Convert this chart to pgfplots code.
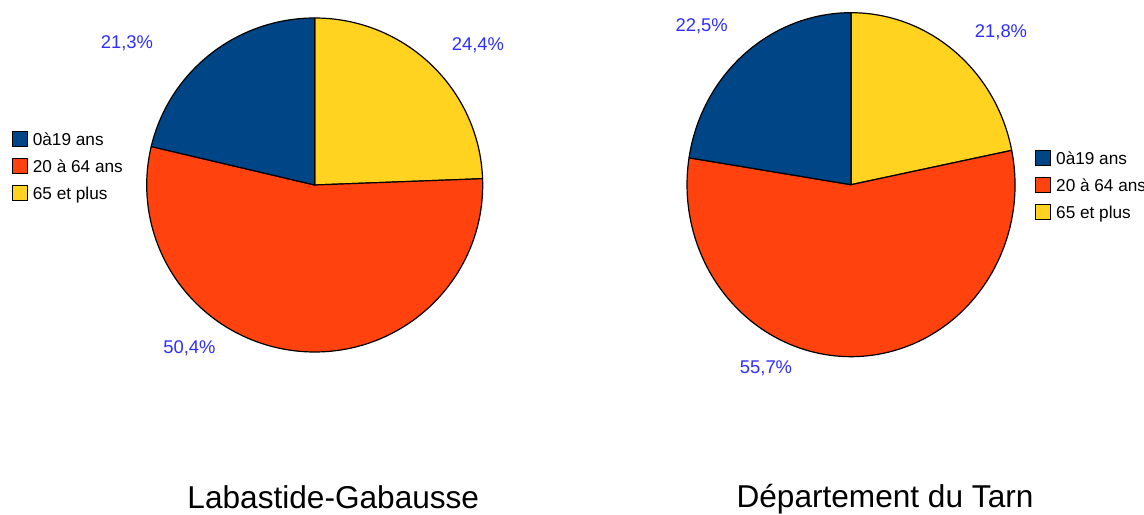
\documentclass[border=0pt]{standalone}
\usepackage{pgfplots}
\pgfplotsset{compat=1.18}
\usepackage{pgfplotstable}
\usepackage{fontspec}
\setmainfont{Liberation Sans}

\definecolor{ooblue}{HTML}{004586}
\definecolor{oored}{HTML}{FF420E}
\definecolor{ooyellow}{HTML}{FFD320}
\definecolor{lblblue}{HTML}{2E2EFF}

% share = slice size as drawn (clockwise from 12 o'clock), pct = printed value
% lx, ly = label centre, in px from the bottom-left corner
\pgfplotstableread{
share pct  lx    ly    col
24.4  24.4 478   469   ooyellow
54.3  50.4 189.5 166   oored
21.3  21.3 127   471   ooblue
}\labastide
\pgfplotstableread{
share pct  lx    ly    col
21.8  21.8 1001  482   ooyellow
55.7  55.7 766   146   oored
22.5  22.5 701.7 487.5 ooblue
}\tarn

\pgfkeys{/pgf/number format/.cd, use comma, fixed, precision=1, fixed zerofill,
  assume math mode=true}
\tikzset{lbl/.style={text=lblblue, font=\fontsize{9.2}{11}\selectfont, inner sep=0pt}}

% #1 table, #2 cx, #3 cy, #4 rx, #5 ry (axis units, 1 unit = 0.5pt)
\newcommand\drawpie[5]{%
  \pgfplotstablegetrowsof{#1}%
  \pgfmathtruncatemacro\pielast{\pgfplotsretval-1}%
  \xdef\pieangle{90}%
  \foreach \i in {0,...,\pielast}{%
    \pgfplotstablegetelem{\i}{share}\of#1\let\pshare\pgfplotsretval
    \pgfplotstablegetelem{\i}{pct}\of#1\let\ppct\pgfplotsretval
    \pgfplotstablegetelem{\i}{lx}\of#1\let\plx\pgfplotsretval
    \pgfplotstablegetelem{\i}{ly}\of#1\let\ply\pgfplotsretval
    \pgfplotstablegetelem{\i}{col}\of#1\let\pcol\pgfplotsretval
    \pgfmathsetmacro\pend{\pieangle-3.6*\pshare}%
    \pgfmathsetmacro\px{#2+#4*cos(\pieangle)}%
    \pgfmathsetmacro\py{#3+#5*sin(\pieangle)}%
    \edef\piecmd{%
      \noexpand\filldraw[fill=\pcol, draw=black, line width=0.6pt, line join=round]
        (axis cs:#2,#3) -- (axis cs:\px,\py)
        arc[start angle=\pieangle, end angle=\pend, x radius=#4*0.5pt, y radius=#5*0.5pt]
        -- cycle;
      \noexpand\node[lbl] at (axis cs:\plx,\ply)
        {\noexpand\pgfmathprintnumber{\ppct}\noexpand\%};
    }%
    \piecmd
    \xdef\pieangle{\pend}%
  }%
}

\pgfplotsset{
  pieframe/.style={
    x=0.5pt, y=0.5pt, xmin=0, xmax=1144, ymin=0, ymax=514,
    hide axis, clip=false,
    legend image code/.code={\draw[##1] (0pt,-3.75pt) rectangle (7.5pt,3.75pt);},
    legend cell align=left,
    legend style={draw=none, fill=none, inner sep=0pt, outer sep=0pt,
      anchor=north west, column sep=2.5pt, row sep=0pt,
      font=\fontsize{8.6}{10}\selectfont,
      nodes={inner sep=0pt, text height=9.75pt, text depth=3.75pt}},
  },
}

\begin{document}
\begin{tikzpicture}
\begin{axis}[pieframe, legend style={at={(0.0102,0.7558)}}]
  \drawpie{\labastide}{314.7}{329}{168}{167}
  \addlegendimage{fill=ooblue, draw=black, line width=0.6pt}
  \addlegendentry{0à19 ans}
  \addlegendimage{fill=oored, draw=black, line width=0.6pt}
  \addlegendentry{20 à 64 ans}
  \addlegendimage{fill=ooyellow, draw=black, line width=0.6pt}
  \addlegendentry{65 et plus}
  \node[anchor=base, font=\fontsize{15.8}{19}\selectfont, inner sep=0pt]
    at (axis cs:333.3,5.7) {Labastide-Gabausse};
\end{axis}
\begin{axis}[pieframe, legend style={at={(0.9047,0.7183)}}]
  \drawpie{\tarn}{851}{329.3}{164}{172}
  \addlegendimage{fill=ooblue, draw=black, line width=0.6pt}
  \addlegendentry{0à19 ans}
  \addlegendimage{fill=oored, draw=black, line width=0.6pt}
  \addlegendentry{20 à 64 ans}
  \addlegendimage{fill=ooyellow, draw=black, line width=0.6pt}
  \addlegendentry{65 et plus}
  \node[anchor=base, font=\fontsize{15.8}{19}\selectfont, inner sep=0pt]
    at (axis cs:885,7) {Département du Tarn};
\end{axis}
\pgfresetboundingbox
\path[use as bounding box] (0,0) rectangle (572pt,257pt);
\end{tikzpicture}
\end{document}
